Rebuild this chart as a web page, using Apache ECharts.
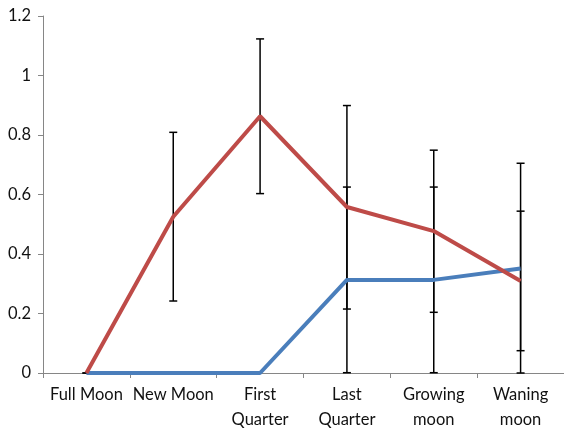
<!DOCTYPE html>
<html>
<head>
<meta charset="utf-8">
<script src="https://cdn.jsdelivr.net/npm/echarts@6/dist/echarts.min.js"></script>
<style>html,body{margin:0;padding:0;background:#fff;}#c{width:564px;height:432px;}</style>
</head>
<body>
<div id="c"></div>
<script>
var categories = ['Full Moon', 'New Moon', 'First\nQuarter', 'Last\nQuarter', 'Growing\nmoon', 'Waning\nmoon'];
var redValues  = [0, 0.525, 0.863, 0.558, 0.477, 0.309];
var blueValues = [0, 0, 0, 0.313, 0.313, 0.351];
var redLow   = [0, 0.242, 0.603, 0.215, 0.204, 0];
var redHigh  = [0, 0.809, 1.123, 0.899, 0.749, 0.705];
var blueLow  = [null, null, null, 0.001, 0.001, 0.075];
var blueHigh = [null, null, null, 0.625, 0.625, 0.544];
var yTicks = [0, 0.2, 0.4, 0.6, 0.8, 1, 1.2];

function errData(lo, hi) {
  var out = [];
  for (var i = 0; i < lo.length; i++) {
    if (lo[i] !== null) out.push([i, lo[i], hi[i]]);
  }
  return out;
}
function renderErr(params, api) {
  var x = api.value(0), lo = api.value(1), hi = api.value(2);
  var p1 = api.coord([x, hi]), p2 = api.coord([x, lo]);
  var hw = 4;
  var st = {stroke: '#000', lineWidth: 1.5};
  return {type: 'group', children: [
    {type: 'line', shape: {x1: p1[0], y1: p1[1], x2: p2[0], y2: p2[1]}, style: st},
    {type: 'line', shape: {x1: p1[0] - hw, y1: p1[1], x2: p1[0] + hw, y2: p1[1]}, style: st},
    {type: 'line', shape: {x1: p2[0] - hw, y1: p2[1], x2: p2[0] + hw, y2: p2[1]}, style: st}
  ]};
}

var chart = echarts.init(document.getElementById('c'), null, {renderer: 'canvas'});
var font = 'Lato, "Liberation Sans", sans-serif';
chart.setOption({
  animation: false,
  backgroundColor: '#fff',
  grid: {left: 43, top: 16, width: 523, height: 358, containLabel: false},
  xAxis: {
    type: 'category',
    data: categories,
    boundaryGap: true,
    axisLine: {lineStyle: {color: '#868686', width: 1}},
    axisTick: {show: true, length: 5, lineStyle: {color: '#868686'}},
    axisLabel: {color: '#111', fontFamily: font, fontSize: 16.5, lineHeight: 25, margin: 9, interval: 0}
  },
  yAxis: {
    type: 'value',
    min: 0, max: 1.2, interval: 0.2,
    splitLine: {show: false},
    axisLine: {show: true, lineStyle: {color: '#868686', width: 1}},
    axisTick: {show: true, length: 5, lineStyle: {color: '#868686'}},
    axisLabel: {color: '#111', fontFamily: font, fontSize: 16.5, margin: 12,
      formatter: function (v) { return String(Math.round(v * 10) / 10); }}
  },
  series: [
    {type: 'custom', renderItem: renderErr, data: errData(redLow, redHigh), encode: {x: 0, y: [1, 2]}, z: 3, clip: false},
    {type: 'custom', renderItem: renderErr, data: errData(blueLow, blueHigh), encode: {x: 0, y: [1, 2]}, z: 3, clip: false},
    {type: 'line', data: blueValues, symbol: 'none', lineStyle: {color: '#4A7EBB', width: 4}, itemStyle: {color: '#4A7EBB'}, z: 4},
    {type: 'line', data: redValues, symbol: 'none', lineStyle: {color: '#BE4B48', width: 4}, itemStyle: {color: '#BE4B48'}, z: 5}
  ]
});
</script>
</body>
</html>
